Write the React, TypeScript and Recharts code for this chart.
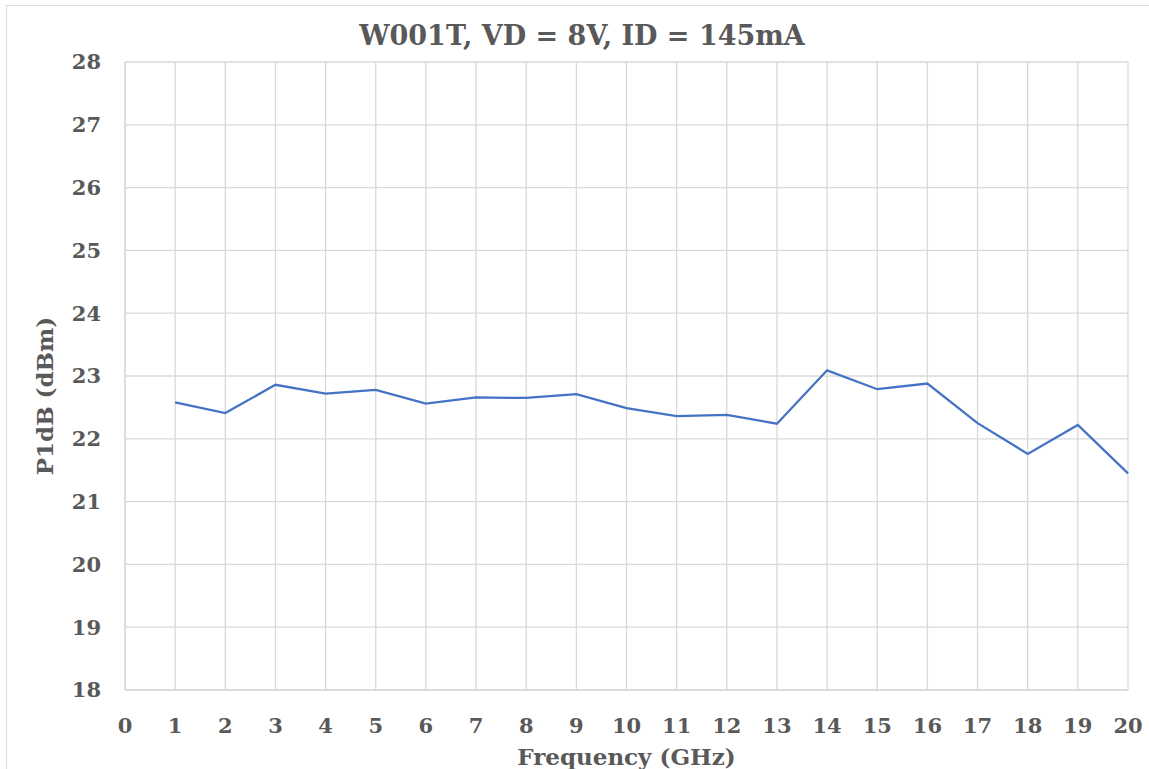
import { LineChart, Line, XAxis, YAxis, CartesianGrid } from "recharts";

const FREQ_GHZ = [1, 2, 3, 4, 5, 6, 7, 8, 9, 10, 11, 12, 13, 14, 15, 16, 17, 18, 19, 20];
const P1DB = [
  22.58, 22.41, 22.86, 22.72, 22.78, 22.56, 22.66, 22.65, 22.71, 22.49,
  22.36, 22.38, 22.24, 23.09, 22.79, 22.88, 22.25, 21.76, 22.22, 21.45,
];
const X_TICKS = [0, 1, 2, 3, 4, 5, 6, 7, 8, 9, 10, 11, 12, 13, 14, 15, 16, 17, 18, 19, 20];
const Y_TICKS = [18, 19, 20, 21, 22, 23, 24, 25, 26, 27, 28];

const TITLE = "W001T, VD = 8V, ID = 145mA";
const X_TITLE = "Frequency (GHz)";
const Y_TITLE = "P1dB (dBm)";

const FONT = "'DejaVu Serif', 'Liberation Serif', serif";
const TEXT = "#595959";
const GRID = "#d9d9d9";

const chartData = FREQ_GHZ.map((f, i) => ({ f, p: P1DB[i] }));

function YTitle(props: any) {
  const vb = props.viewBox;
  const x = vb.x + 53;
  const y = vb.y + vb.height / 2 + 20;
  return (
    <text
      x={x}
      y={y}
      transform={`rotate(-90, ${x}, ${y})`}
      textAnchor="middle"
      fill={TEXT}
      fontFamily={FONT}
      fontWeight="bold"
      fontSize={23}
    >
      {Y_TITLE}
    </text>
  );
}

export default function App() {
  return (
    <div
      style={{
        position: "absolute",
        left: 0,
        top: 0,
        width: 1149,
        height: 769,
        overflow: "hidden",
        background: "#fff",
      }}
    >
      <div
        style={{
          position: "absolute",
          left: 6,
          top: 5,
          width: 1170,
          height: 800,
          border: "1.5px solid #dcdcdc",
        }}
      />
      <div
        style={{
          position: "absolute",
          left: 0,
          width: 1164,
          top: 20,
          textAlign: "center",
          fontFamily: FONT,
          fontWeight: "bold",
          fontSize: 27,
          color: TEXT,
        }}
      >
        {TITLE}
      </div>
      <div style={{ position: "absolute", left: 0, top: 0 }}>
        <LineChart
          width={1149}
          height={769}
          data={chartData}
          margin={{ top: 62, right: 21, bottom: 0, left: 0 }}
        >
          <CartesianGrid stroke={GRID} strokeWidth={1.3} />
          <XAxis
            dataKey="f"
            type="number"
            domain={[0, 20]}
            ticks={X_TICKS}
            interval={0}
            height={79}
            axisLine={{ stroke: GRID, strokeWidth: 1.3 }}
            tickLine={false}
            tickSize={0}
            tickMargin={28}
            tick={{ fill: TEXT, fontFamily: FONT, fontWeight: "bold", fontSize: 21 }}
            label={{
              value: X_TITLE,
              position: "insideBottom",
              offset: 4,
              fill: TEXT,
              fontFamily: FONT,
              fontWeight: "bold",
              fontSize: 23,
            }}
          />
          <YAxis
            type="number"
            domain={[18, 28]}
            ticks={Y_TICKS}
            interval={0}
            width={125}
            axisLine={{ stroke: GRID, strokeWidth: 1.3 }}
            tickLine={false}
            tickSize={0}
            tickMargin={24}
            tick={{ fill: TEXT, fontFamily: FONT, fontWeight: "bold", fontSize: 21 }}
            label={<YTitle />}
          />
          <Line
            dataKey="p"
            type="linear"
            stroke="#4472C4"
            strokeWidth={2.25}
            dot={false}
            isAnimationActive={false}
          />
        </LineChart>
      </div>
    </div>
  );
}
